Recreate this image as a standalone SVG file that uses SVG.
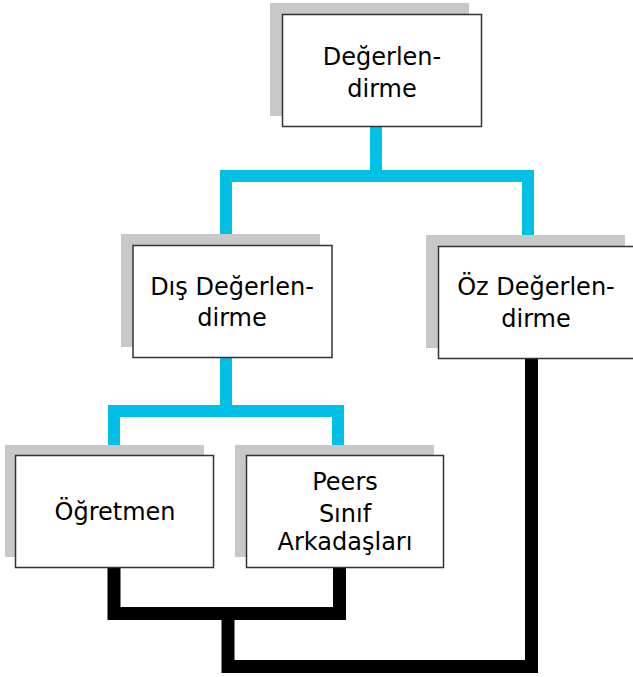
<svg xmlns="http://www.w3.org/2000/svg" width="633" height="677" viewBox="0 0 633 677">
<style>
.shadow{fill:#c8c8c8}
.box{fill:#fff;stroke:#333;stroke-width:1.5}
.lbl{font-family:"DejaVu Sans","Open Sans",sans-serif;font-size:24px;fill:#000;text-anchor:middle}
.cy{fill:none;stroke:#00c0e8;stroke-width:12;stroke-linejoin:miter;stroke-linecap:butt}
.bk{fill:none;stroke:#000;stroke-width:13;stroke-linejoin:miter;stroke-linecap:butt}
</style>
<rect width="633" height="677" fill="#fff"/>
<g id="connectors">
<path class="cy" d="M376 127 V176"/>
<path class="cy" d="M226 234 V176 H528 V235"/>
<path class="cy" d="M226 358 V411"/>
<path class="cy" d="M114 445 V411 H338 V445"/>
<path class="bk" d="M114 568 V613.5 H339.5 V568"/>
<path class="bk" d="M228 614 V666.5 H531.5 V359"/>
</g>
<g id="node-degerlendirme">
<rect class="shadow" x="270" y="3" width="199" height="113"/>
<rect class="box" x="282.5" y="14.5" width="199" height="112"/>
<text class="lbl" x="382" y="65">Değerlen-</text>
<text class="lbl" x="382" y="97">dirme</text>
</g>
<g id="node-dis">
<rect class="shadow" x="121" y="234" width="199" height="113"/>
<rect class="box" x="133" y="245.5" width="199" height="112"/>
<text class="lbl" x="232" y="295">Dış Değerlen-</text>
<text class="lbl" x="232" y="326">dirme</text>
</g>
<g id="node-oz">
<rect class="shadow" x="426" y="235" width="199" height="113"/>
<rect class="box" x="438.5" y="246.5" width="199" height="112"/>
<text class="lbl" x="536" y="295">Öz Değerlen-</text>
<text class="lbl" x="536" y="327">dirme</text>
</g>
<g id="node-ogretmen">
<rect class="shadow" x="5" y="445" width="199" height="112"/>
<rect class="box" x="15.5" y="455.5" width="198" height="112"/>
<text class="lbl" x="115" y="520">Öğretmen</text>
</g>
<g id="node-peers">
<rect class="shadow" x="235" y="445" width="199" height="112"/>
<rect class="box" x="246.5" y="455.5" width="197" height="112"/>
<text class="lbl" x="345" y="490">Peers</text>
<text class="lbl" x="345" y="522">Sınıf</text>
<text class="lbl" x="345" y="550">Arkadaşları</text>
</g>
</svg>
